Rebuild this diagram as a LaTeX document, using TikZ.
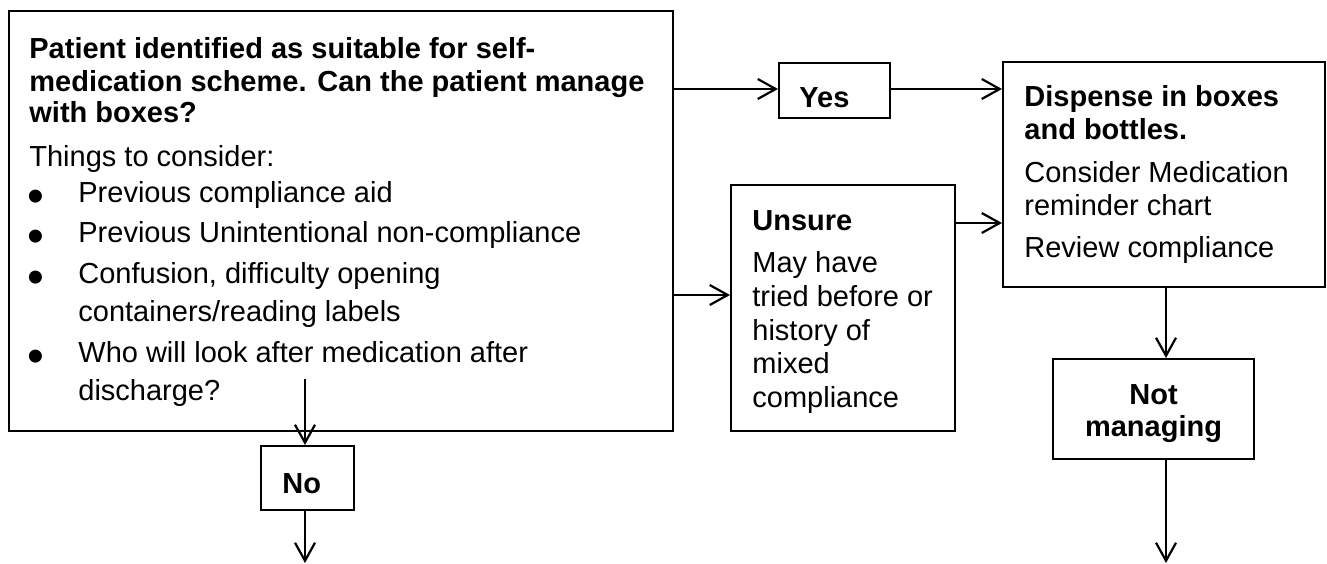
\documentclass[tikz,border=0pt]{standalone}
\usepackage{fontspec}
\setmainfont{Liberation Sans}
\usetikzlibrary{arrows.meta,fit}

\tikzset{
  box/.style={draw, line width=1pt, inner sep=0pt, rectangle},
  arr/.style={line width=1.1pt, -{Straight Barb[length=9pt,width=10pt,line width=1.1pt]}},
  txt/.style={anchor=base west, inner sep=0pt, font=\fontsize{14.5}{17}\selectfont},
  btxt/.style={txt, font=\fontsize{14.5}{17}\selectfont\bfseries},
  ctxt/.style={btxt, anchor=base},
  dot/.style={anchor=base west, inner sep=0pt, text height=9pt, text depth=0pt,
    font=\fontsize{24}{24}\selectfont},
}

\begin{document}
\begin{tikzpicture}[x=0.5pt, y=-0.5pt]
  \useasboundingbox (0,0) rectangle (1327,563);

  % boxes
  \node[box, fit={(9,11) (673,431)}] (main) {};
  \node[box, fit={(779,63) (890,118)}] (yes) {};
  \node[box, fit={(1003,62) (1325,287)}] (disp) {};
  \node[box, fit={(731,185) (955,431)}] (unsure) {};
  \node[box, fit={(1053,359) (1254,459)}] (notman) {};
  \node[box, fit={(261,446) (354,510)}] (no) {};

  % question box text
  \node[btxt] (h1) at (29,58) {Patient identified as suitable for self-};
  \node[btxt] (h2) at (29,91) {medication scheme. Can the patient manage};
  \node[btxt] (h3) at (29,122) {with boxes?};
  \node[txt] (cons) at (29,166) {Things to consider:};
  \node[dot] (d1) at (27.5,212) {•};
  \node[txt] (b1) at (78,202) {Previous compliance aid};
  \node[dot] (d2) at (27.5,252) {•};
  \node[txt] (b2) at (78,242) {Previous Unintentional non-compliance};
  \node[dot] (d3) at (27.5,293) {•};
  \node[txt] (b3) at (78,283) {Confusion, difficulty opening};
  \node[txt] (b3b) at (78,321) {containers/reading labels};
  \node[dot] (d4) at (27.5,372) {•};
  \node[txt] (b4) at (78,362) {Who will look after medication after};
  \node[txt] (b4b) at (78,400) {discharge?};

  % answer boxes text
  \node[btxt] (yeslbl) at (799,107) {Yes};
  \node[btxt] (nolbl) at (282,493) {No};

  \node[btxt] (p1) at (1024,106) {Dispense in boxes};
  \node[btxt] (p2) at (1024,139) {and bottles.};
  \node[txt] (p3) at (1024,182) {Consider Medication};
  \node[txt] (p4) at (1024,215) {reminder chart};
  \node[txt] (p5) at (1024,257) {Review compliance};

  \node[btxt] (u1) at (752,230) {Unsure};
  \node[txt] (u2) at (752,272) {May have};
  \node[txt] (u3) at (752,306) {tried before or};
  \node[txt] (u4) at (752,340) {history of};
  \node[txt] (u5) at (752,373) {mixed};
  \node[txt] (u6) at (752,407) {compliance};

  \node[ctxt] (n1) at (1153.5,404) {Not};
  \node[ctxt] (n2) at (1153.5,436) {managing};

  % connector anchors
  \coordinate (yrow) at (0,89);
  \coordinate (urow) at (0,295);
  \coordinate (drow) at (0,223);
  \coordinate (vcol) at (1166,0);
  \coordinate (nostart) at (305,379);
  \coordinate (noend) at (305,563);
  \coordinate (nmend) at (1166,563);

  % connectors
  \draw[arr] (main.east |- yrow) -- (yes.west |- yrow);
  \draw[arr] (yes.east |- yrow) -- (disp.west |- yrow);
  \draw[arr] (main.east |- urow) -- (unsure.west |- urow);
  \draw[arr] (unsure.east |- drow) -- (disp.west |- drow);
  \draw[arr] (vcol |- disp.south) -- (vcol |- notman.north);
  \draw[arr] (vcol |- notman.south) -- (nmend);
  \draw[arr] (nostart) -- (nostart |- no.north);
  \draw[arr] (nostart |- no.south) -- (noend);
\end{tikzpicture}
\end{document}
